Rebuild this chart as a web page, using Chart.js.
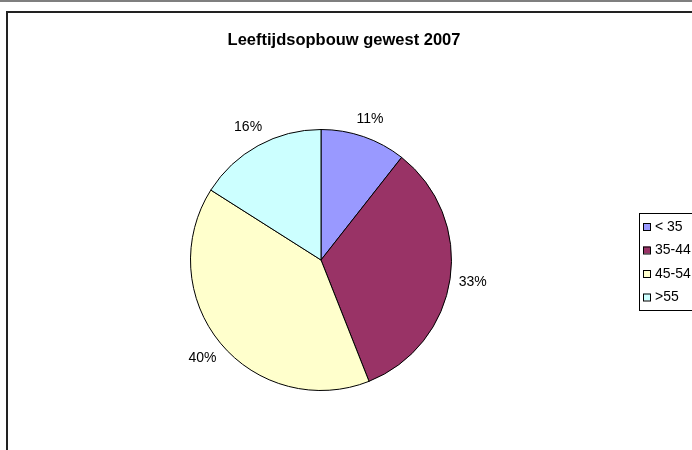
<!DOCTYPE html>
<html>
<head>
<meta charset="utf-8">
<script src="https://cdn.jsdelivr.net/npm/chart.js@4/dist/chart.umd.min.js"></script>
<style>
  html, body { margin: 0; padding: 0; background: #fff; }
  #wrap { width: 692px; height: 450px; }
</style>
</head>
<body>
<div id="wrap"><canvas id="myChart" width="692" height="450"></canvas></div>
<script>
// data
var chartTitle = "Leeftijdsopbouw gewest 2007";
var ageGroups = ["< 35", "35-44", "45-54", ">55"];
var shares = [10.6, 33.4, 40.0, 16.0];
var sliceColors = ["#9999FF", "#993366", "#FFFFCC", "#CCFFFF"];

// draws the frame, title, percent labels and legend (Excel look)
var excelBits = {
  id: "excelBits",
  afterDraw: function(chart) {
    var ctx = chart.ctx;
    ctx.save();

    // frame
    ctx.strokeStyle = "#555";
    ctx.lineWidth = 1.5;
    ctx.beginPath();
    ctx.moveTo(0, 1); ctx.lineTo(692, 1);
    ctx.stroke();
    ctx.strokeStyle = "#222";
    ctx.lineWidth = 2;
    ctx.beginPath();
    ctx.moveTo(7, 450); ctx.lineTo(7, 12); ctx.lineTo(692, 12);
    ctx.stroke();

    // title
    ctx.fillStyle = "#000";
    ctx.font = "bold 16.5px 'Liberation Sans', Arial, sans-serif";
    ctx.textAlign = "center";
    ctx.textBaseline = "alphabetic";
    ctx.fillText(chartTitle, 344, 45);

    // percent labels outside each slice
    var total = shares.reduce(function(a, b) { return a + b; }, 0);
    var meta = chart.getDatasetMeta(0);
    ctx.font = "14px 'Liberation Sans', Arial, sans-serif";
    ctx.textBaseline = "middle";
    meta.data.forEach(function(arc, i) {
      var p = arc.getProps(["x", "y", "startAngle", "endAngle", "outerRadius"], true);
      var mid = (p.startAngle + p.endAngle) / 2;
      var dx = Math.cos(mid), dy = Math.sin(mid);
      var txt = Math.round(shares[i] / total * 100) + "%";
      var hw = ctx.measureText(txt).width / 2, hh = 7;
      var d = p.outerRadius + 8 + hw * Math.abs(dx) + hh * Math.abs(dy);
      ctx.fillText(txt, p.x + dx * d, p.y + dy * d);
    });

    // legend
    ctx.fillStyle = "#fff";
    ctx.fillRect(639, 213, 60, 97);
    ctx.strokeStyle = "#000";
    ctx.lineWidth = 1;
    ctx.strokeRect(639.5, 213.5, 60, 97);
    ctx.textAlign = "left";
    ageGroups.forEach(function(lab, i) {
      var y = 227 + i * 23.5;
      ctx.fillStyle = sliceColors[i];
      ctx.fillRect(643, y - 4, 7, 7);
      ctx.strokeRect(643.5, y - 3.5, 7, 7);
      ctx.fillStyle = "#000";
      ctx.fillText(lab, 655, y);
    });

    ctx.restore();
  }
};

new Chart("myChart", {
  type: "pie",
  data: {
    labels: ageGroups,
    datasets: [{
      data: shares,
      backgroundColor: sliceColors,
      borderColor: "#000",
      borderWidth: 1
    }]
  },
  options: {
    responsive: false,
    animation: false,
    devicePixelRatio: 1,
    layout: { padding: { left: 190, top: 129, right: 240, bottom: 59 } },
    plugins: {
      legend: { display: false },
      title: { display: false },
      tooltip: { enabled: false }
    }
  },
  plugins: [excelBits]
});
</script>
</body>
</html>
